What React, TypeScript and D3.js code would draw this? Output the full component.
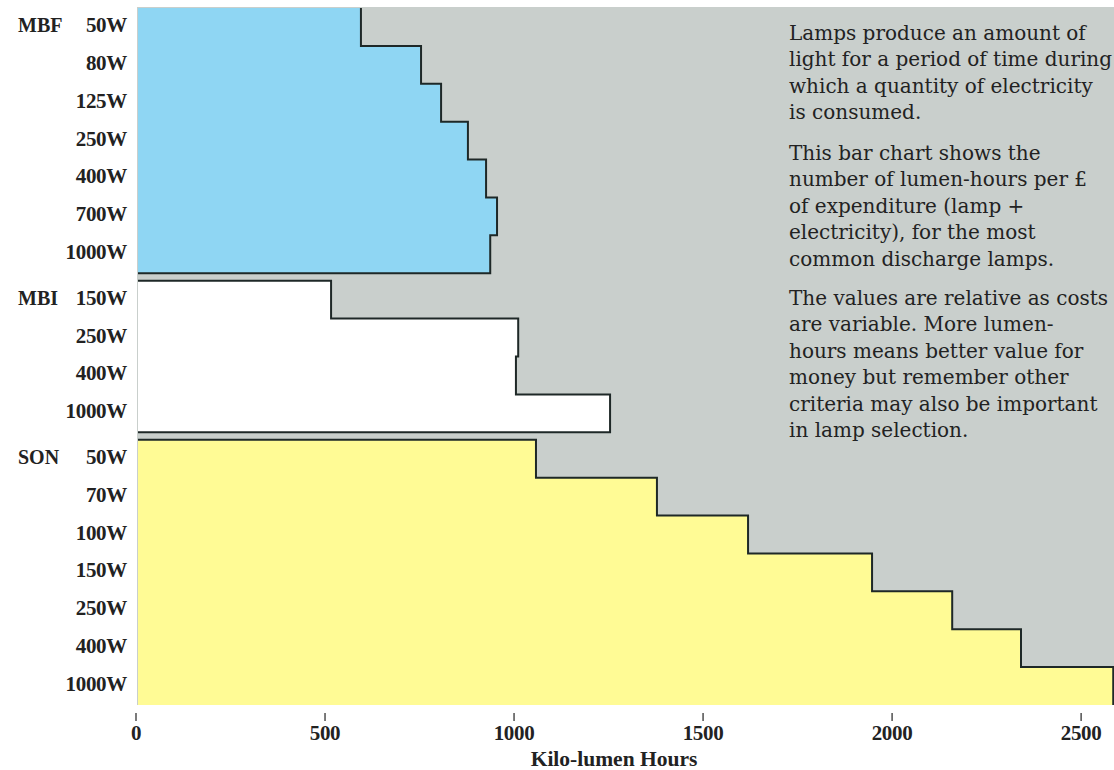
import React from "react";
import * as d3 from "d3";

const groupNames = ["MBF", "MBI", "SON"];
const mbfLabels = ["50W", "80W", "125W", "250W", "400W", "700W", "1000W"];
const mbfValues = [595, 754, 807, 878, 926, 955, 937];
const mbiLabels = ["150W", "250W", "400W", "1000W"];
const mbiValues = [516, 1011, 1005, 1254];
const sonLabels = ["50W", "70W", "100W", "150W", "250W", "400W", "1000W"];
const sonValues = [1058, 1378, 1619, 1947, 2159, 2341, 2585];
const xTicks = [0, 500, 1000, 1500, 2000, 2500];
const xTitle = "Kilo-lumen Hours";
const paragraphs = [
  ["Lamps produce an amount of", "light for a period of time during", "which a quantity of electricity", "is consumed."],
  ["This bar chart shows the", "number of lumen-hours per £", "of expenditure (lamp +", "electricity), for the most", "common discharge lamps."],
  ["The values are relative as costs", "are variable. More lumen-", "hours means better value for", "money but remember other", "criteria may also be important", "in lamp selection."],
];

const W = 1114;
const H = 770;
const colors = ["#8fd6f3", "#ffffff", "#fffb95"];
const bgGray = "#c9cfcc";
const lineColor = "#1e2827";
const labelFont = "'Liberation Serif', 'Times New Roman', serif";
const bodyFont = "'DejaVu Serif', serif";

const groups = [
  { name: groupNames[0], labels: mbfLabels, values: mbfValues, topLine: false, bottomLine: true },
  { name: groupNames[1], labels: mbiLabels, values: mbiValues, topLine: true, bottomLine: true },
  { name: groupNames[2], labels: sonLabels, values: sonValues, topLine: true, bottomLine: false },
];

const GAP = 0.2;
const totalUnits = groups.reduce((s, g) => s + g.values.length, 0) + GAP * (groups.length - 1);

export default function App() {
  const plotTop = 8;
  const plotBottom = 705;
  const x = d3.scaleLinear().domain([0, 2587]).range([136, W]);
  const y = d3.scaleLinear().domain([0, totalUnits]).range([plotTop, plotBottom]);
  const x0 = 138;

  let offset = 0;
  const layout = groups.map((g) => {
    const start = offset;
    offset += g.values.length + GAP;
    return { ...g, start };
  });

  const fillPath = (g: any) => {
    const p = d3.path();
    const top = y(g.start);
    p.moveTo(x0, top);
    p.lineTo(x(g.values[0]), top);
    g.values.forEach((v: number, i: number) => {
      const yb = y(g.start + i + 1);
      p.lineTo(x(v), yb);
      if (i < g.values.length - 1) p.lineTo(x(g.values[i + 1]), yb);
    });
    p.lineTo(x0, y(g.start + g.values.length));
    p.closePath();
    return p.toString();
  };

  const linePath = (g: any) => {
    const p = d3.path();
    const top = y(g.start);
    if (g.topLine) {
      p.moveTo(x0, top);
      p.lineTo(x(g.values[0]), top);
    } else {
      p.moveTo(x(g.values[0]), top);
    }
    g.values.forEach((v: number, i: number) => {
      const yb = y(g.start + i + 1);
      p.lineTo(x(v), yb);
      if (i < g.values.length - 1) p.lineTo(x(g.values[i + 1]), yb);
      else if (g.bottomLine) p.lineTo(x0, yb);
    });
    return p.toString();
  };

  return (
    <div style={{ position: "absolute", left: 0, top: 0 }}>
      <svg width={W} height={H} style={{ display: "block", background: "#fff" }}>
        <rect x={137} y={plotTop - 1} width={W - 137} height={plotBottom - plotTop + 1} fill={bgGray} />
        {layout.map((g, gi) => (
          <path key={g.name + "-fill"} d={fillPath(g)} fill={colors[gi]} />
        ))}
        {layout.map((g) => (
          <path
            key={g.name + "-line"}
            d={linePath(g)}
            fill="none"
            stroke={lineColor}
            strokeWidth={2}
            strokeLinejoin="miter"
          />
        ))}
        {layout.map((g) => (
          <g key={g.name + "-labels"} fontFamily={labelFont} fontWeight="bold" fill="#222" fontSize={20}>
            <text x={18} y={(y(g.start) + y(g.start + 1)) / 2 - 2} dominantBaseline="central">
              {g.name}
            </text>
            {g.labels.map((l, i) => (
              <text
                key={l}
                x={127}
                y={(y(g.start + i) + y(g.start + i + 1)) / 2 - 2}
                textAnchor="end"
                dominantBaseline="central"
                fontSize={21}
                letterSpacing={-0.3}
              >
                {l}
              </text>
            ))}
          </g>
        ))}
        <g fontFamily={labelFont} fontWeight="bold" fill="#222" fontSize={21}>
          {xTicks.map((t) => (
            <g key={t}>
              <line x1={x(t)} x2={x(t)} y1={713} y2={721} stroke="#333" strokeWidth={1.3} />
              <text x={x(t)} y={740} textAnchor="middle" letterSpacing={-0.3}>
                {t}
              </text>
            </g>
          ))}
          <text x={614} y={766} textAnchor="middle" fontSize={21.5}>
            {xTitle}
          </text>
        </g>
        <g fontFamily={bodyFont} fontSize={20} fill="#222">
          {paragraphs.map((lines, pi) => {
            const starts = [40, 160, 305];
            return lines.map((ln, li) => (
              <text key={pi + "-" + li} x={789} y={starts[pi] + li * 26.4}>
                {ln}
              </text>
            ));
          })}
        </g>
      </svg>
    </div>
  );
}
